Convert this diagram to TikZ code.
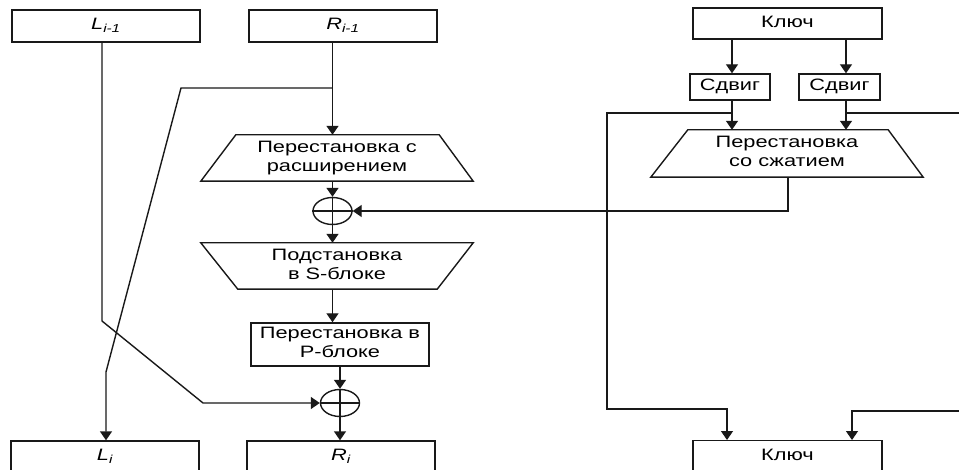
\documentclass[tikz,border=0pt]{standalone}
\usepackage{fontspec}
\setmainfont{Liberation Sans}
\usepackage{graphicx}
\usetikzlibrary{arrows.meta,shapes.geometric}
\newcommand{\wtxt}[1]{\scalebox{1.32}[1]{\begin{tabular}{@{}c@{}}#1\end{tabular}}}
\begin{document}
\begin{tikzpicture}[x=1pt,y=-1pt,
  line/.style={line width=1.4pt, draw=black!90},
  arr/.style={line, -{Triangle[width=12pt,length=9pt]}},
  box/.style={line, draw, rectangle, minimum width=188, minimum height=32, inner sep=0,
    font=\fontsize{16.5}{19}\selectfont},
  tz/.style={rectangle, draw=none, minimum width=272, minimum height=46, inner sep=0,
    font=\fontsize{16.5}{19}\selectfont},
  xor/.style={line, draw, ellipse, minimum width=39, minimum height=27, inner sep=0}]
\useasboundingbox (0,0) rectangle (959,470);
\clip (0,0) rectangle (959,470);
% boxes
\node[box] (Lp) at (106,26) {\wtxt{\itshape L\textsubscript{i-1}}};
\node[box] (Rp) at (343,26) {\wtxt{\itshape R\textsubscript{i-1}}};
\node[box] (Ln) at (105,457) {\wtxt{\itshape L\textsubscript{i}}};
\node[box] (Rn) at (341,457) {\wtxt{\itshape R\textsubscript{i}}};
\node[box, minimum width=189, minimum height=31] (K1) at (787.5,23.5) {\wtxt{Ключ}};
\node[box, minimum width=80, minimum height=26] (S1) at (730,87) {\wtxt{Сдвиг}};
\node[box, minimum width=81, minimum height=26] (S2) at (839.5,87) {\wtxt{Сдвиг}};
\node[box, minimum width=189, minimum height=31, anchor=north] (K2) at (787.5,440) {\raisebox{3pt}{\wtxt{Ключ}}};
\node[box, minimum width=178, minimum height=43] (P) at (340,344.5) {\wtxt{Перестановка в\\P-блоке}};
% trapezoids
\node[tz] (T1) at (337,158) {\wtxt{Перестановка с\\расширением}};
\draw[line] ([xshift=35pt]T1.north west) -- ([xshift=-34pt]T1.north east) -- (T1.south east) -- (T1.south west) -- cycle;
\node[tz] (T2) at (337,266) {\wtxt{Подстановка\\в S-блоке}};
\draw[line] (T2.north west) -- (T2.north east) -- ([xshift=-36pt]T2.south east) -- ([xshift=37pt]T2.south west) -- cycle;
\node[tz, minimum height=47] (T3) at (787,153.5) {\wtxt{Перестановка\\со сжатием}};
\draw[line] ([xshift=37pt]T3.north west) -- ([xshift=-35pt]T3.north east) -- (T3.south east) -- (T3.south west) -- cycle;
% xor
\node[xor] (X1) at (332.5,211) {};
\node[xor] (X2) at (340,403) {};
\draw[line] (X1.north) -- (X1.south) (X1.west) -- (X1.east);
\draw[line] (X2.north) -- (X2.south) (X2.west) -- (X2.east);
% coordinates
\coordinate (b1) at (332.5,88);
\coordinate (b2) at (181,88);
\coordinate (b3) at (106,372);
\coordinate (c1) at (102,321);
\coordinate (c2) at (203,403);
\coordinate (d1) at (732,113);
\coordinate (d2) at (846,113);
\coordinate (e1) at (607,113);
\coordinate (e2) at (607,409);
\coordinate (e3) at (727,409);
\coordinate (f1) at (975,113);
\coordinate (g1) at (975,411);
\coordinate (g2) at (852,411);
\coordinate (h1) at (788,211);
% left/main chain
\draw[arr] (Rp.south -| X1) -- (T1.north -| X1);
\draw[arr] (b1) -- (b2) -- (b3) -- (b3 |- Ln.north);
\draw[arr] (Lp.south -| c1) -- (c1) -- (c2) -- (X2.west);
\draw[arr] (T1.south -| X1) -- (X1.north);
\draw[arr] (X1.south) -- (T2.north -| X1);
\draw[arr] (T2.south -| X1) -- (P.north -| X1);
\draw[arr] (P.south -| X2) -- (X2.north);
\draw[arr] (X2.south) -- (Rn.north -| X2);
% key chain
\draw[arr] (K1.south -| d1) -- (S1.north -| d1);
\draw[arr] (K1.south -| d2) -- (S2.north -| d2);
\draw[arr] (S1.south -| d1) -- (T3.north -| d1);
\draw[arr] (S2.south -| d2) -- (T3.north -| d2);
\draw[arr] (d1) -- (e1) -- (e2) -- (e3) -- (e3 |- K2.north);
\draw[line] (d2) -- (f1);
\draw[arr] (g1) -- (g2) -- (g2 |- K2.north);
\draw[arr] (T3.south -| h1) -- (h1) -- (X1.east);
\end{tikzpicture}
\end{document}
